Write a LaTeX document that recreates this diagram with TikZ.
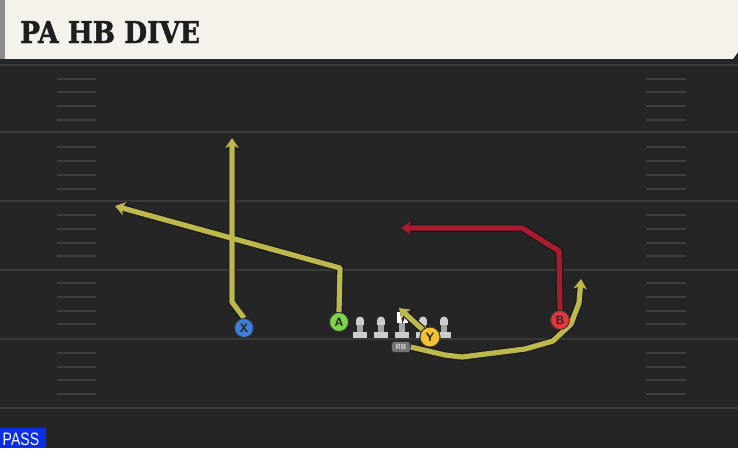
\documentclass[tikz,border=0pt]{standalone}
\usepackage{fontspec}
\setmainfont{DejaVu Sans}
\newfontfamily\titlefont[FakeBold=1.6]{DejaVu Serif Bold}
\newfontfamily\passfont{Liberation Sans}
\usetikzlibrary{arrows.meta}
\definecolor{fieldbg}{HTML}{252525}
\definecolor{yardcol}{HTML}{3A3A3A}
\definecolor{hashcol}{HTML}{3E3E3E}
\definecolor{headbg}{HTML}{F5F2EC}
\definecolor{titlecol}{HTML}{1E1E1E}
\definecolor{routey}{HTML}{BDB84C}
\definecolor{router}{HTML}{AA1A31}
\definecolor{xblue}{HTML}{3D7DDB}
\definecolor{agreen}{HTML}{7DD34A}
\definecolor{yyellow}{HTML}{F4C22E}
\definecolor{bred}{HTML}{E2383C}
\definecolor{linecol}{HTML}{CDCDCD}
\definecolor{passblue}{HTML}{0B2DE6}
\tikzset{
  yardline/.style={draw=yardcol, line width=2pt},
  hashmark/.style={draw=hashcol, line width=1.6pt},
  player/.style={circle, draw=black!80, line width=0.9pt, minimum size=19pt, inner sep=0pt,
    font=\sffamily\bfseries\fontsize{12}{12}\selectfont, text=black!85},
  routeout/.style={draw=black!90, line width=7.5pt, line join=round},
  routein/.style={line width=5.2pt, line join=round},
  tipout/.style={-{Stealth[width=18pt,length=13pt,inset=4pt]}},
  tipin/.style={-{Stealth[width=13.5pt,length=10pt,inset=3pt]}},
  rbbox/.style={rounded corners=3pt, fill=black!55, draw=black!80, line width=0.7pt,
    minimum width=19pt, minimum height=11pt, inner sep=0pt,
    font=\sffamily\bfseries\fontsize{7.5}{7.5}\selectfont, text=black!12},
  olinem/.pic={
    \fill[linecol] (-7,-6.5) rectangle (7,0);
    \fill[linecol!80!black] (-3,-16) rectangle (3,-6.5);
    \fill[linecol] (0,-17.5) circle (4pt);
    \fill[linecol] (-4,-17.5) rectangle (4,-13);
  }
}
\begin{document}
\begin{tikzpicture}[x=1pt,y=-1pt]
\useasboundingbox (0,0) rectangle (738,448);
\fill[fieldbg] (0,0) rectangle (738,448);
% header
\fill[headbg] (0,0) -- (738,0) -- (738,52) -- (733,59) -- (0,59) -- cycle;
\fill[black!45] (0,0) rectangle (5,59);
\fill[black!85] (0,59) rectangle (738,62);
\node[anchor=base west, inner sep=0pt, text=titlecol] (title) at (20,43)
  {\scalebox{0.88}[1]{\titlefont\fontsize{30}{30}\selectfont PA HB DIVE}};
% yard lines
\foreach \yy in {65,132,201,270,339,408} {
  \draw[yardline] (0,\yy) -- (738,\yy);
}
% hash marks
\foreach \yy in {79,92,106,120,147,161,175,189,215,229,243,256,283,297,311,324,353,367,380,394} {
  \draw[hashmark] (57,\yy) -- (96,\yy);
  \draw[hashmark] (646,\yy) -- (686,\yy);
}
% players
\node[player, fill=xblue] (X) at (244,328) {X};
\node[player, fill=agreen] (A) at (339,322) {A};
\node[player, fill=bred] (B) at (560,320) {B};
% linemen
\pic at (360,338) {olinem};
\pic at (381,338) {olinem};
\pic at (444,338) {olinem};
\pic at (423,338) {olinem};
% center
\fill[linecol] (395,331.5) rectangle (409,338);
\fill[linecol!80!black] (399,322) rectangle (405,331.5);
\fill[white] (396.5,312) rectangle (407.5,323);
\node[rbbox] (RB) at (401,347) {RB};
% waypoints
\coordinate (x1) at (232,302);
\coordinate (x2) at (232,138);
\coordinate (a1) at (340,268);
\coordinate (a2) at (115,206);
\coordinate (b1) at (559,251);
\coordinate (b2) at (522,228);
\coordinate (b3) at (401,228);
\coordinate (y2) at (399,308);
\coordinate (r1) at (445,355);
\coordinate (r2) at (462,357);
\coordinate (r3) at (525,349);
\coordinate (r4) at (553,341);
\coordinate (r5) at (571,324);
\coordinate (r6) at (579,303);
\coordinate (r7) at (581,279);
% routes: outlines
\draw[routeout, tipout] (X.north) -- (x1) -- (x2);
\draw[routeout, tipout] (A.north) -- (a1) -- (a2);
\draw[routeout, tipout] (B.north) -- (b1) -- (b2) -- (b3);
\draw[routeout, tipout] (RB.east) -- (r1) -- (r2) -- (r3) -- (r4) -- (r5) -- (r6) -- (r7);
% routes: colour
\draw[routein, tipin, routey] (X.north) -- (x1) -- (x2);
\draw[routein, tipin, routey] (A.north) -- (a1) -- (a2);
\draw[routein, tipin, router] (B.north) -- (b1) -- (b2) -- (b3);
\draw[routein, tipin, routey] (RB.east) -- (r1) -- (r2) -- (r3) -- (r4) -- (r5) -- (r6) -- (r7);
% redraw players on top
\node[player, fill=xblue] at (X) {X};
\node[player, fill=agreen] at (A) {A};
\node[player, fill=bred] at (B) {B};
\node[player, fill=yyellow, minimum size=20pt] (Y) at (430,337) {Y};
\draw[routeout, tipout] (Y.north west) -- (y2);
\draw[routein, tipin, routey] (Y.north west) -- (y2);
\node[player, fill=yyellow, minimum size=20pt] at (Y) {Y};
% PASS tag
\fill[passblue] (0,428) rectangle (46,448);
\node[anchor=base west, inner sep=0pt, text=white] (pass) at (2.5,445)
  {\scalebox{0.78}[1]{\passfont\fontsize{18}{18}\selectfont PASS}};
\end{tikzpicture}
\end{document}
